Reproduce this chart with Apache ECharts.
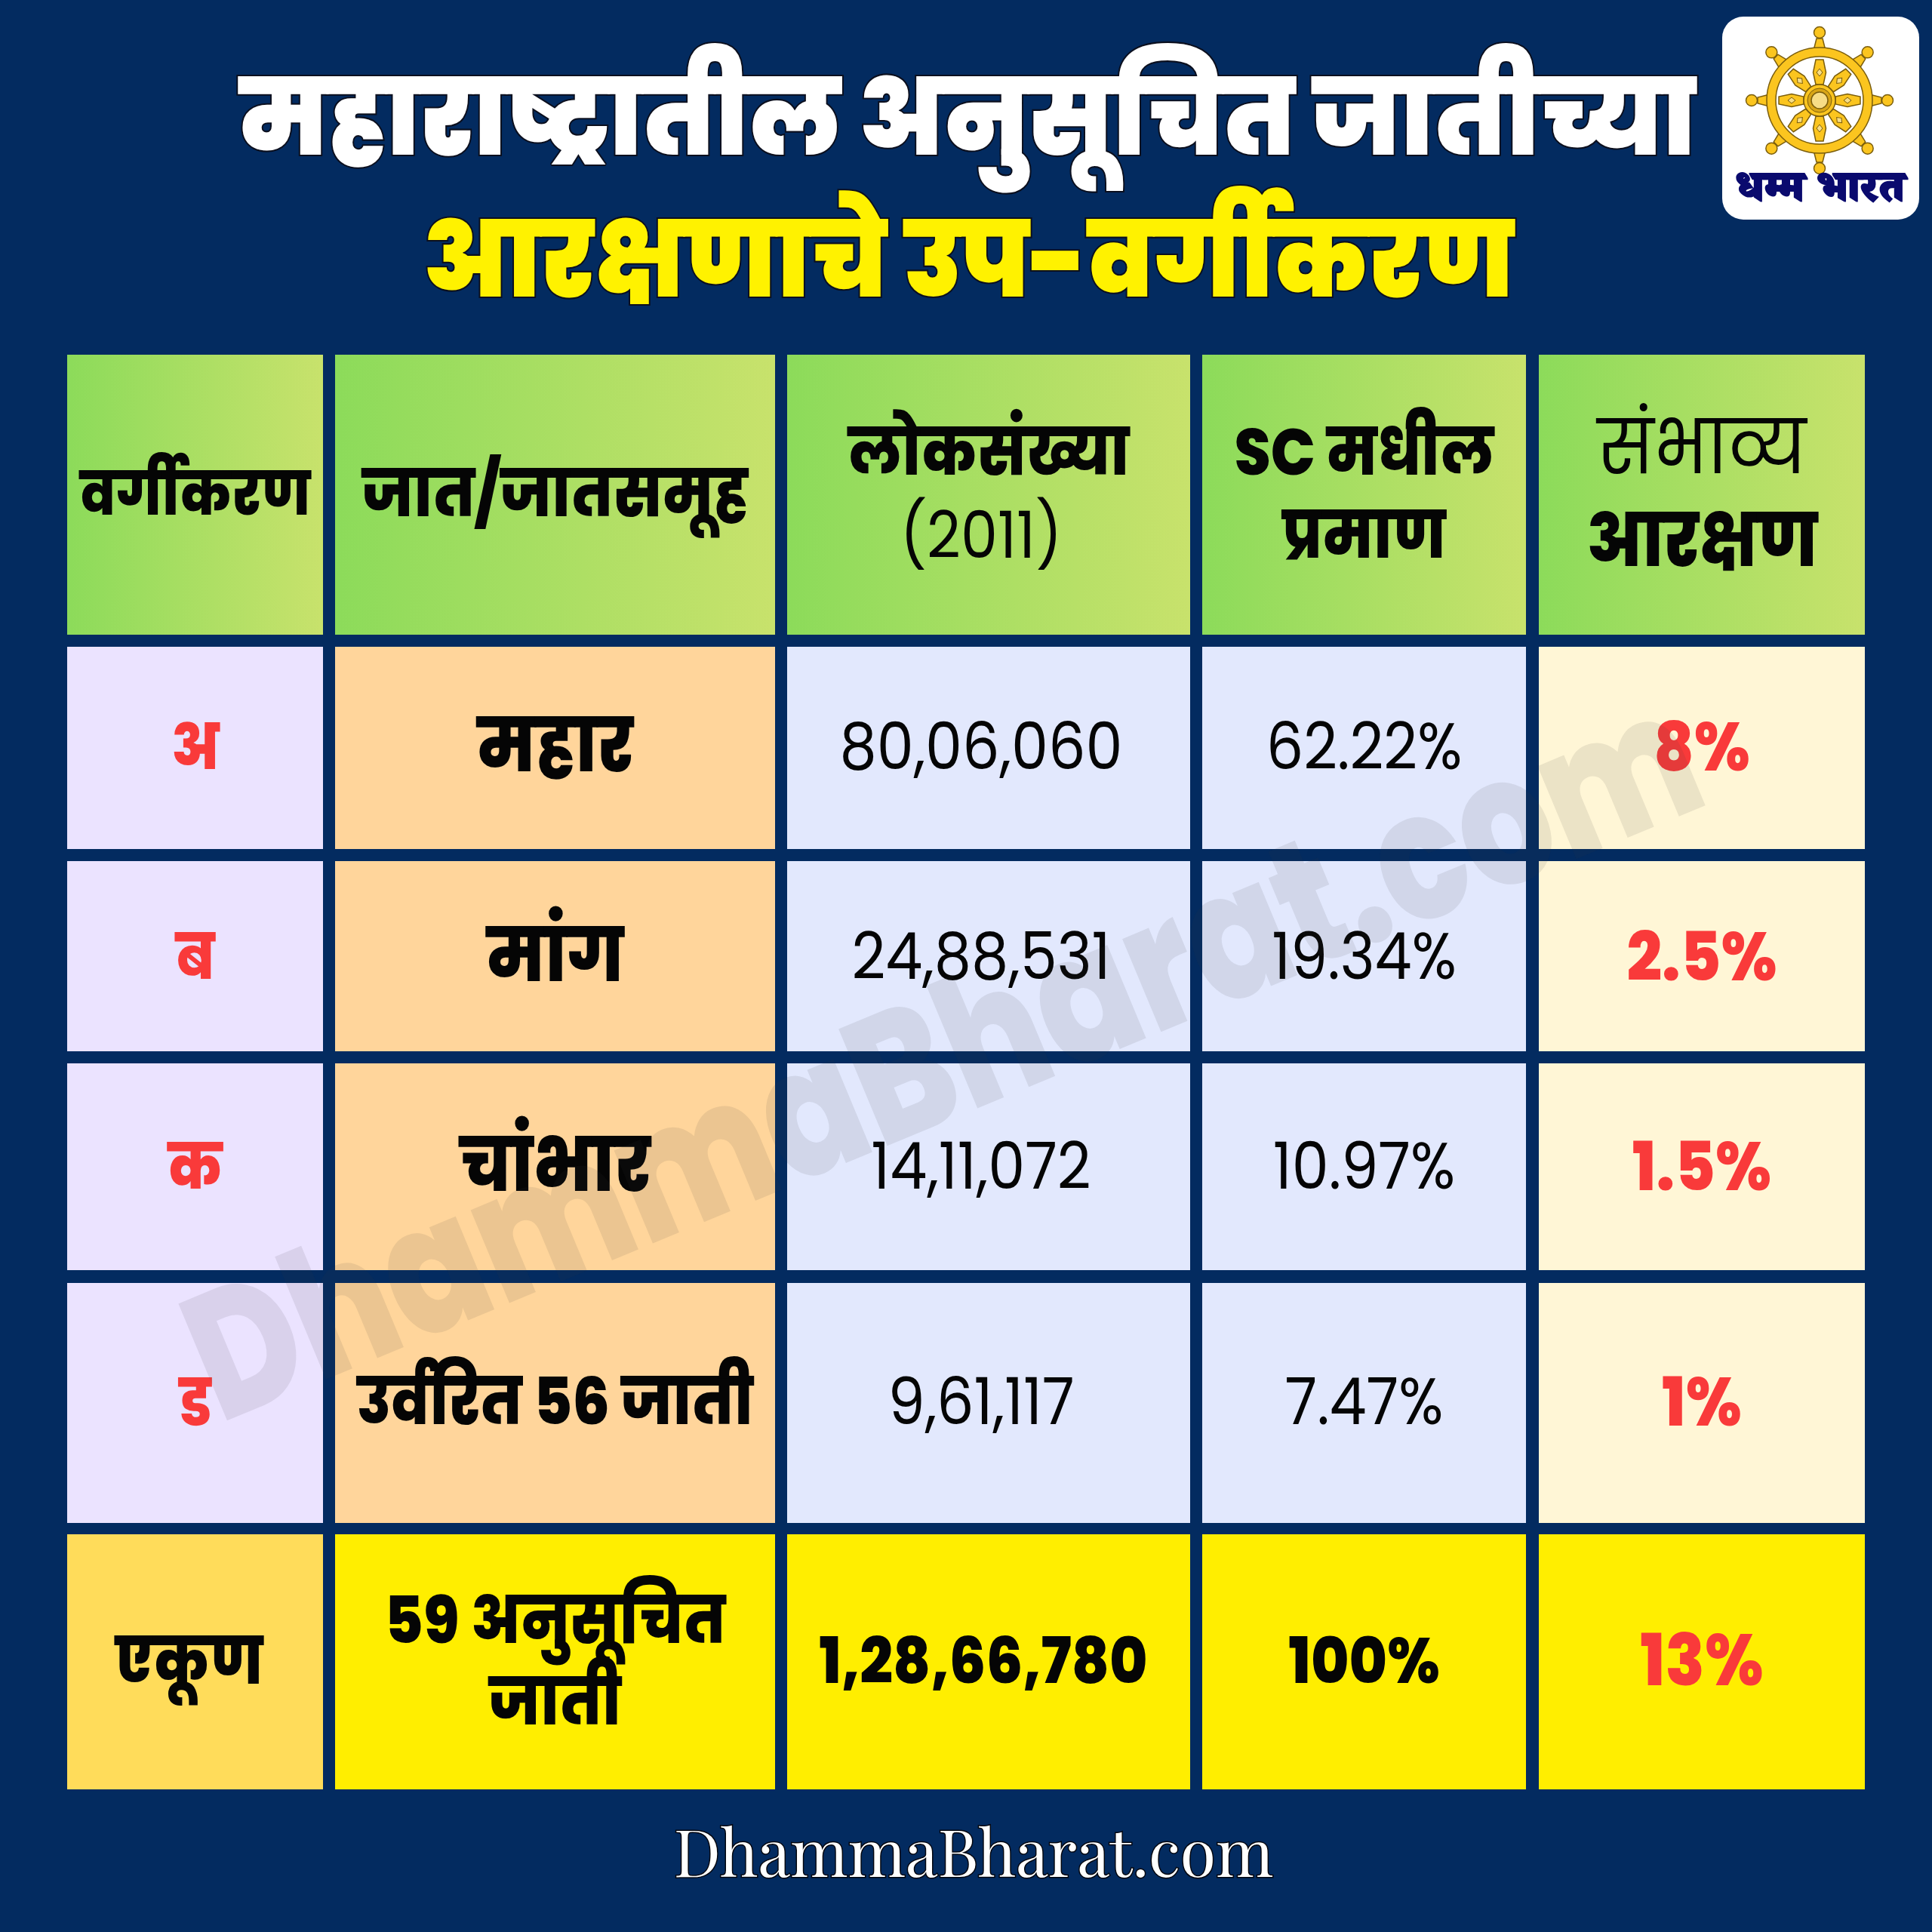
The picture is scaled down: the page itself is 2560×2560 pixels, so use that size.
<!DOCTYPE html><html><head><meta charset="utf-8"><style>html,body{margin:0;background:#032b60}#c{width:2560px;height:2560px}</style><script src="https://cdn.jsdelivr.net/npm/echarts@6/dist/echarts.min.js"></script></head><body><div id="c"></div><script>
// ---- content ----
const titleLine1 = 'महाराष्ट्रातील अनुसूचित जातीच्या';
const titleLine2 = 'आरक्षणाचे उप-वर्गीकरण';
const footerText = 'DhammaBharat.com';
const logoText = 'धम्म भारत';
const headers = [['वर्गीकरण'], ['जात/जातसमूह'], ['लोकसंख्या', '(2011)'], ['SC मधील', 'प्रमाण'], ['संभाव्य', 'आरक्षण']];
const classes = ['अ', 'ब', 'क', 'ड'];
const castes = ['महार', 'मांग', 'चांभार', 'उर्वरित 56 जाती'];
const populations = ['80,06,060', '24,88,531', '14,11,072', '9,61,117'];
const shares = ['62.22%', '19.34%', '10.97%', '7.47%'];
const reservations = ['8%', '2.5%', '1.5%', '1%'];
const totals = [['एकूण'], ['59 अनुसूचित', 'जाती'], ['1,28,66,780'], ['100%'], ['13%']];

// ---- layout (separate from data) ----
const colEdges = [[89,428],[444,1027],[1043,1577],[1593,2022],[2039,2471]];
const rowEdges = [[470,841],[857,1125],[1141,1393],[1409,1683],[1700,2018],[2033,2371]];
const FONT = 'Poppins,"Noto Sans",sans-serif';
const RED = '#f93a3a', INK = '#050505', SY = 1.1, TITLE_SY = 1.05;
const bodyFill = ['#ebe3ff','#ffd59b','#e2e8fd','#e2e8fd','#fff6d6'];
const totalFill = ['#ffdc5a','#ffee00','#ffee00','#ffee00','#ffee00'];
const headFill = () => new echarts.graphic.LinearGradient(0,0,1,0,[{offset:0,color:'#8cdb5a'},{offset:1,color:'#c8e26c'}]);
const cells = [];
rowEdges.forEach((r,ri)=>colEdges.forEach((c,ci)=>cells.push([c[0],r[0],c[1],r[1],ri,ci])));

const textRows = [];
function put(col,y,text,size,weight,color,dx){const c=colEdges[col];textRows.push([(c[0]+c[1])/2+(dx||0),y,text,size,weight,color]);}
put(0,662,headers[0][0],72.5,800,INK);
put(1,662,headers[1][0],78.5,800,INK);
put(2,608,headers[2][0],78,800,INK); put(2,718,headers[2][1],78,400,INK,-10);
put(3,608,headers[3][0],78,800,INK); put(3,718,headers[3][1],78,800,INK);
put(4,602,headers[4][0],90,400,INK); put(4,726,headers[4][1],88,800,INK);
const ys=[998,1276,1554,1866];
classes.forEach((t,i)=>put(0,ys[i],t,76,800,RED));
castes.forEach((t,i)=>put(1,ys[i]-1,t,i==3?78.4:90,800,INK));
populations.forEach((t,i)=>put(2,ys[i],t,78,400,INK,-10));
shares.forEach((t,i)=>put(3,ys[i],t,78,400,INK));
reservations.forEach((t,i)=>put(4,ys[i],t,82,800,RED));
put(0,2210,totals[0][0],78,800,INK,-8);
put(1,2155,totals[1][0],78.5,800,INK); put(1,2263,totals[1][1],78.5,800,INK);
put(2,2209,totals[2][0],77,800,INK,-7);
put(3,2209,totals[3][0],77,800,INK);
put(4,2209,totals[4][0],86,800,RED);
const titleRows=[[1282,170,titleLine1,133.4,'#ffffff'],[1283,358,titleLine2,133,'#fff200']];

const c=echarts.init(document.getElementById('c'));
function wheel(){
  const cx=2411,cy=133,out='#7a5d0c',gold='#fbc51f',ch=[];
  const ln={fill:gold,stroke:out,lineWidth:1.5};
  for(let k=0;k<8;k++){
    ch.push({type:'group',x:cx,y:cy,rotation:k*Math.PI/4,children:[
      {type:'polygon',z:6,shape:{points:[[-5,-21],[-8.5,-37],[-5,-54],[5,-54],[8.5,-37],[5,-21]]},style:ln},
      {type:'polygon',z:6,shape:{points:[[0,-42],[4,-37],[0,-32],[-4,-37]]},style:{fill:'#f7dd86',stroke:out,lineWidth:1}},
      {type:'polygon',z:6,shape:{points:[[-8,-66],[-4,-82],[4,-82],[8,-66]]},style:ln},
      {type:'circle',z:6,shape:{cx:0,cy:-90,r:7.5},style:ln}
    ]});
  }
  ch.push({type:'ring',z:7,shape:{cx,cy,r:70,r0:58},style:ln});
  ch.push({type:'circle',z:7,shape:{cx,cy,r:21},style:ln});
  ch.push({type:'circle',z:8,shape:{cx,cy,r:16},style:{fill:'#d8a516',stroke:out,lineWidth:1}});
  ch.push({type:'circle',z:8,shape:{cx,cy,r:11},style:{fill:'#f7dd86',stroke:out,lineWidth:1.5}});
  return ch;
}
c.setOption({
  animation:false,backgroundColor:'#032b60',
  grid:{left:0,right:0,top:0,bottom:0},
  xAxis:{type:'value',min:0,max:2560,show:false},
  yAxis:{type:'value',min:0,max:2560,inverse:true,show:false},
  series:[
   {type:'custom',coordinateSystem:'cartesian2d',data:cells,silent:true,z:1,
    renderItem(p,api){
      const a=api.coord([api.value(0),api.value(1)]),b=api.coord([api.value(2),api.value(3)]);
      const ri=api.value(4),ci=api.value(5);
      const fill=ri==0?headFill():ri==5?totalFill[ci]:bodyFill[ci];
      return {type:'rect',shape:{x:a[0],y:a[1],width:b[0]-a[0],height:b[1]-a[1]},style:{fill}};
    }},
   {type:'custom',coordinateSystem:'cartesian2d',data:textRows.map((d,i)=>[d[0],d[1],i]),silent:true,z:2,
    renderItem(p,api){
      const d=textRows[api.value(2)],a=api.coord([d[0],d[1]]);
      return {type:'text',x:a[0],y:a[1],scaleY:SY,style:{x:0,y:0,text:d[2],fill:d[5],font:`${d[4]} ${d[3]}px ${FONT}`,align:'center',verticalAlign:'middle'}};
    }},
   {type:'custom',coordinateSystem:'cartesian2d',data:titleRows.map((d,i)=>[d[0],d[1],i]),silent:true,z:2,
    renderItem(p,api){
      const d=titleRows[api.value(2)],a=api.coord([d[0],d[1]]);
      return {type:'text',x:a[0],y:a[1],scaleY:TITLE_SY,style:{x:0,y:0,text:d[2],fill:d[4],stroke:'#0b0f1e',lineWidth:4,strokeFirst:true,font:`900 ${d[3]}px ${FONT}`,align:'center',verticalAlign:'middle'}};
    }}
  ],
  graphic:[
   {type:'text',z:5,x:1257,y:1420,rotation:22.6*Math.PI/180,scaleX:0.81,style:{text:footerText,font:`800 238px ${FONT}`,fill:'rgba(60,60,60,0.10)',align:'center',verticalAlign:'middle'}},
   {type:'text',z:5,x:1290,y:2460,style:{text:footerText,font:'400 86px "Playfair Display","DejaVu Serif","Liberation Serif",serif',fill:'#ffffff',stroke:'#04070f',lineWidth:3,strokeFirst:true,align:'center',verticalAlign:'middle'}},
   {type:'rect',z:5,shape:{x:2282,y:22,width:261,height:269,r:28},style:{fill:'#ffffff'}},
   {type:'group',z:6,children:wheel()},
   {type:'text',z:6,x:2412,y:260,style:{text:logoText,font:'900 57px "Noto Serif Devanagari","Noto Sans",serif',fill:'#0a0a6e',stroke:'#0a0a6e',lineWidth:2,align:'center',verticalAlign:'middle'}}
  ]
});
</script></body></html>
